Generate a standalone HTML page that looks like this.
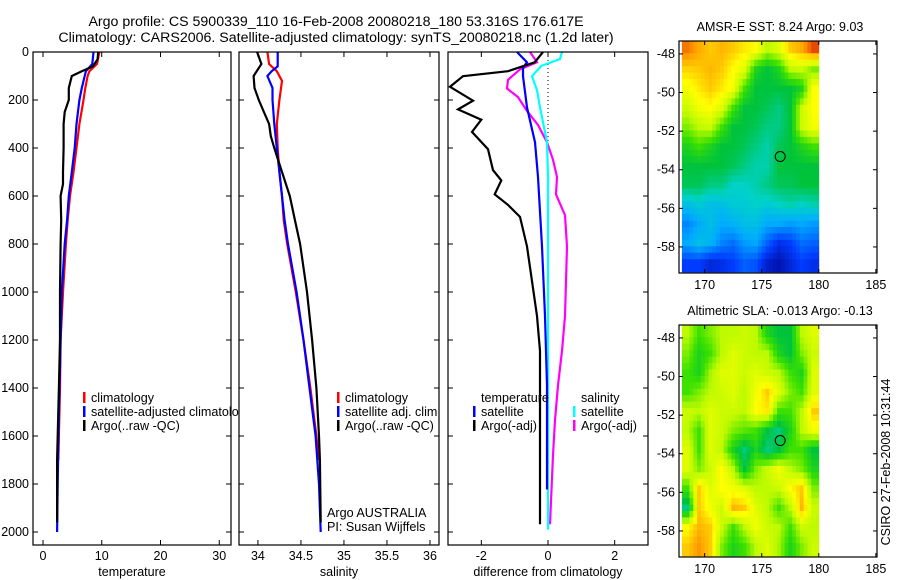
<!DOCTYPE html>
<html><head><meta charset="utf-8">
<style>
html,body{margin:0;padding:0;background:#fff;}
svg{display:block;font-family:"Liberation Sans",sans-serif;}
</style></head>
<body>
<svg id="fig" width="900" height="580" viewBox="0 0 900 580" xmlns="http://www.w3.org/2000/svg">
<text x="336" y="26" font-size="14.2" text-anchor="middle">Argo profile: CS 5900339_110 16-Feb-2008 20080218_180 53.316S 176.617E</text>
<text x="336" y="42" font-size="14.2" text-anchor="middle">Climatology: CARS2006. Satellite-adjusted climatology: synTS_20080218.nc (1.2d later)</text>
<g id="root"></g>
<text transform="translate(890,462) rotate(-90)" font-size="12.5" text-anchor="middle">CSIRO 27-Feb-2008 10:31:44</text>
</svg>
<script>
// ---------- data ----------
const tDepth = [0,30,60,80,100,150,200,250,300,400,500,550,600,700,800,1000,1200,1400,1600,1700,1960];
const tArgo  = [9.4,9.3,8.5,6.6,4.9,4.4,4.4,3.7,3.5,3.5,3.4,3.4,3.0,3.1,3.0,2.9,2.9,2.7,2.5,2.4,2.4];
const cDepth = [0,50,80,100,150,200,300,400,500,600,700,800,1000,1200,1400,1700];
const tClim  = [9.6,9.2,7.9,7.6,7.2,6.9,6.2,5.7,5.2,4.6,4.2,3.9,3.4,3.0,2.9,2.6];
const sDepth = [0,50,80,100,150,200,300,400,500,600,700,800,1000,1200,1500,1800,2000];
const tSat   = [8.6,8.4,7.3,7.1,6.6,6.2,5.7,5.4,4.9,4.4,4.1,3.7,3.2,3.0,2.7,2.5,2.4];

const sArgoDepth = [0,50,100,150,200,250,300,350,400,500,600,700,800,1000,1200,1400,1600,1700,1960];
const sArgo  = [33.99,34.04,33.95,33.96,34.01,34.07,34.13,34.15,34.19,34.28,34.37,34.43,34.49,34.57,34.63,34.68,34.71,34.72,34.73];
const sClimDepth = [0,50,80,120,200,300,400,500,600,700,800,1000,1200,1400,1600,1700];
const sClim  = [34.11,34.13,34.22,34.28,34.25,34.22,34.23,34.25,34.28,34.30,34.34,34.44,34.53,34.61,34.68,34.71];
const sSatDepth = [0,60,80,100,150,200,300,400,500,600,700,800,1000,1200,1400,1600,1800,2000];
const sSat   = [34.23,34.23,34.16,34.11,34.17,34.17,34.19,34.22,34.25,34.28,34.31,34.35,34.45,34.53,34.60,34.67,34.71,34.73];

const dTArgoDepth = [0,43,80,101,145,203,239,282,333,405,492,535,593,637,687,810,955,1100,1245,1389,1968];
const dTArgo = [-0.15,-0.4,-1.2,-2.55,-2.94,-2.25,-2.7,-2.0,-2.28,-1.8,-1.65,-1.4,-1.6,-1.2,-0.84,-0.63,-0.48,-0.33,-0.24,-0.24,-0.24];
const dTSatDepth = [0,43,65,101,231,376,521,810,1100,1389,1823];
const dTSat  = [-0.93,-0.63,-0.75,-0.75,-0.63,-0.39,-0.3,-0.18,-0.09,-0.03,-0.03];
const dSSatDepth = [0,29,58,101,159,231,376,521,1000,1500,1990];
const dSSat  = [0.42,0.36,-0.2,-0.48,-0.33,-0.24,-0.03,0,0,0,0];
const dSArgoDepth = [0,43,72,116,152,188,246,304,376,449,521,593,680,810,1100,1245,1389,1534,1679,1968];
const dSArgo = [-0.54,-0.33,-0.84,-1.2,-1.23,-0.9,-0.63,-0.3,-0.03,0.15,0.27,0.24,0.51,0.57,0.51,0.42,0.3,0.21,0.15,0.06];

const depthTicks = [0,200,400,600,800,1000,1200,1400,1600,1800,2000];
const tempTicks = [0,10,20,30];
const salTicks = [34,34.5,35,35.5,36];
const salTickLabels = ["34","34.5","35","35.5","36"];
const diffTicks = [-2,0,2];
const lonTicks = [170,175,180,185];
const latTicks = [-48,-50,-52,-54,-56,-58];

const sstGrid = [
[0.92,0.88,0.85,0.87,0.85,0.82,0.8,0.7,0.75,0.85,0.88,0.95],
[0.84,0.85,0.87,0.85,0.8,0.75,0.55,0.5,0.55,0.7,0.72,0.65],
[0.78,0.82,0.85,0.82,0.78,0.6,0.5,0.5,0.5,0.5,0.55,0.8],
[0.72,0.78,0.8,0.75,0.6,0.5,0.5,0.48,0.45,0.5,0.72,0.8],
[0.65,0.7,0.72,0.6,0.5,0.5,0.48,0.45,0.45,0.5,0.72,0.78],
[0.55,0.6,0.55,0.5,0.5,0.48,0.45,0.42,0.48,0.5,0.55,0.6],
[0.5,0.5,0.5,0.5,0.48,0.45,0.42,0.42,0.5,0.5,0.5,0.5],
[0.48,0.48,0.45,0.45,0.4,0.4,0.42,0.45,0.48,0.48,0.5,0.5],
[0.35,0.38,0.35,0.35,0.38,0.38,0.4,0.38,0.4,0.42,0.4,0.42],
[0.25,0.3,0.35,0.3,0.32,0.35,0.35,0.3,0.3,0.28,0.3,0.28],
[0.3,0.35,0.32,0.25,0.22,0.28,0.3,0.2,0.12,0.15,0.22,0.2],
[0.15,0.15,0.1,0.12,0.15,0.2,0.18,0.08,0.05,0.1,0.15,0.12]];
const slaGrid = [
[0.7,0.6,0.65,0.7,0.7,0.72,0.7,0.55,0.5,0.5,0.7,0.75],
[0.65,0.55,0.6,0.7,0.75,0.72,0.7,0.7,0.55,0.5,0.65,0.72],
[0.6,0.55,0.68,0.75,0.75,0.72,0.75,0.72,0.7,0.6,0.55,0.75],
[0.6,0.65,0.7,0.72,0.75,0.7,0.78,0.85,0.75,0.65,0.6,0.75],
[0.72,0.7,0.75,0.72,0.72,0.7,0.8,0.82,0.6,0.6,0.7,0.85],
[0.7,0.6,0.75,0.72,0.65,0.62,0.6,0.5,0.45,0.55,0.7,0.78],
[0.75,0.6,0.75,0.7,0.55,0.45,0.55,0.45,0.5,0.6,0.6,0.5],
[0.75,0.65,0.72,0.8,0.7,0.5,0.65,0.72,0.78,0.7,0.65,0.55],
[0.6,0.85,0.75,0.8,0.78,0.75,0.7,0.7,0.72,0.8,0.85,0.65],
[0.45,0.85,0.78,0.72,0.87,0.85,0.75,0.7,0.6,0.7,0.87,0.72],
[0.8,0.87,0.85,0.72,0.6,0.7,0.78,0.72,0.7,0.6,0.72,0.7],
[0.85,0.9,0.85,0.65,0.55,0.6,0.7,0.75,0.68,0.55,0.65,0.72]];
const gridLon0 = 168, gridLat0 = -47.3, gridStep = 1;
const argoLon = 176.617, argoLat = -53.316;

// ---------- helpers ----------
const NS = "http://www.w3.org/2000/svg";
const rootG = document.getElementById('root');
function mk(tag, attrs, parent){ const e=document.createElementNS(NS,tag); for(const k in attrs) e.setAttribute(k,attrs[k]); (parent||rootG).appendChild(e); return e; }
function lin(d0,d1,r0,r1){ return v => r0 + (v-d0)/(d1-d0)*(r1-r0); }

const Y = lin(0,2000,52,532);
const pTop=52, pBot=545;
const panels = [
  {x0:33,x1:231,dom:[-1.7,32.0],name:'temperature-panel',ticks:tempTicks,labels:tempTicks.map(String),xlabel:'temperature',ylab:true},
  {x0:239,x1:439,dom:[33.78,36.105],name:'salinity-panel',ticks:salTicks,labels:salTickLabels,xlabel:'salinity',ylab:false},
  {x0:448,x1:648,dom:[-3,3],name:'difference-panel',ticks:diffTicks,labels:['-2','0','2'],xlabel:'difference from climatology',ylab:false}
];

function drawLine(g, X, depths, vals, color, name){
  let d='';
  for(let i=0;i<depths.length;i++){ d += (i?'L':'M') + X(vals[i]).toFixed(1) + ' ' + Y(depths[i]).toFixed(1); }
  const p = mk('path',{d:d,fill:'none',stroke:color,'stroke-width':2.2},g);
  
  
}
function legendEntry(g,x,y,color,label,name){
  const gg = mk('g',{},g);
  
  
  if(color) mk('rect',{x:x,y:y-10,width:2.5,height:11,fill:color},gg);
  const t = mk('text',{x:x+8,y:y,'font-size':12.6},gg); t.textContent=label;
}

panels.forEach((P,pi)=>{
  const g = mk('g',{});
  
  
  P.X = lin(P.dom[0],P.dom[1],P.x0,P.x1);
  mk('rect',{x:P.x0,y:pTop,width:P.x1-P.x0,height:pBot-pTop,fill:'#fff'},g);
  const cp = mk('clipPath',{id:'cp'+pi},g); mk('rect',{x:P.x0,y:pTop,width:P.x1-P.x0,height:pBot-pTop},cp);
  P.g = mk('g',{'clip-path':'url(#cp'+pi+')'},g);
  P.free = mk('g',{},g);
  P.frame = g;
});

// temperature
let P=panels[0];
drawLine(P.g,P.X,cDepth,tClim,'#ff0000','temp-climatology-line');
drawLine(P.g,P.X,sDepth,tSat,'#0000ff','temp-satellite-line');
drawLine(P.g,P.X,tDepth,tArgo,'#000000','temp-argo-line');
legendEntry(P.free,83,402,'#ff0000','climatology','legend-climatology');
legendEntry(P.free,83,416,'#0000ff','satellite-adjusted climatology','legend-satellite-adjusted');
legendEntry(P.free,83,430,'#000000','Argo(..raw -QC)','legend-argo');
// salinity
P=panels[1];
drawLine(P.g,P.X,sClimDepth,sClim,'#ff0000','sal-climatology-line');
drawLine(P.g,P.X,sSatDepth,sSat,'#0000ff','sal-satellite-line');
drawLine(P.g,P.X,sArgoDepth,sArgo,'#000000','sal-argo-line');
legendEntry(P.g,337,402,'#ff0000','climatology','legend-sal-climatology');
legendEntry(P.g,337,416,'#0000ff','satellite adj. clim.','legend-sal-satellite');
legendEntry(P.g,337,430,'#000000','Argo(..raw -QC)','legend-sal-argo');
let t1=mk('text',{x:327,y:517,'font-size':12.6},P.g); t1.textContent='Argo AUSTRALIA';
 
let t2=mk('text',{x:327,y:531,'font-size':12.6},P.g); t2.textContent='PI: Susan Wijffels';
 
// differences
P=panels[2];
mk('line',{x1:P.X(0),x2:P.X(0),y1:Y(0),y2:Y(600),stroke:'#000','stroke-width':1,'stroke-dasharray':'1,3'},P.g);
drawLine(P.g,P.X,dSArgoDepth,dSArgo,'#ff00ff','diff-sal-argo-line');
drawLine(P.g,P.X,dSSatDepth,dSSat,'#00ffff','diff-sal-satellite-line');
drawLine(P.g,P.X,dTSatDepth,dTSat,'#0000ff','diff-temp-satellite-line');
drawLine(P.g,P.X,dTArgoDepth,dTArgo,'#000000','diff-temp-argo-line');
legendEntry(P.g,473,402,null,'temperature','legend-temperature-heading');
legendEntry(P.g,473,416,'#0000ff','satellite','legend-diff-temp-satellite');
legendEntry(P.g,473,430,'#000000','Argo(-adj)','legend-diff-temp-argo');
legendEntry(P.g,573,402,null,'salinity','legend-salinity-heading');
legendEntry(P.g,573,416,'#00ffff','satellite','legend-diff-sal-satellite');
legendEntry(P.g,573,430,'#ff00ff','Argo(-adj)','legend-diff-sal-argo');

// frames & ticks
panels.forEach((P,pi)=>{
  const g=P.frame;
  mk('rect',{x:P.x0,y:pTop,width:P.x1-P.x0,height:pBot-pTop,fill:'none',stroke:'#000','stroke-width':1.2},g);
  P.ticks.forEach((v,i)=>{
    const x=P.X(v);
    mk('line',{x1:x,x2:x,y1:pBot,y2:pBot-5,stroke:'#000'},g);
    mk('line',{x1:x,x2:x,y1:pTop,y2:pTop+5,stroke:'#000'},g);
    const t=mk('text',{x:x,y:pBot+15,'font-size':12.5,'text-anchor':'middle'},g); t.textContent=P.labels[i];
  });
  depthTicks.forEach(d=>{
    const y=Y(d);
    mk('line',{x1:P.x0,x2:P.x0+5,y1:y,y2:y,stroke:'#000'},g);
    mk('line',{x1:P.x1,x2:P.x1-5,y1:y,y2:y,stroke:'#000'},g);
    if(P.ylab){ const t=mk('text',{x:P.x0-4,y:y+4,'font-size':12.5,'text-anchor':'end'},g); t.textContent=String(d); }
  });
  const xl=mk('text',{x:(P.x0+P.x1)/2,y:pBot+31,'font-size':12.5,'text-anchor':'middle'},g); xl.textContent=P.xlabel;
  
  
});

// ---------- maps ----------
const stops=[[0,[0,0,140]],[0.15,[0,60,255]],[0.3,[0,170,255]],[0.4,[0,210,200]],[0.5,[0,195,60]],[0.6,[60,225,0]],[0.7,[190,250,0]],[0.8,[255,255,0]],[0.9,[255,150,0]],[1,[200,0,0]]];
function cmap(v){ v=Math.max(0,Math.min(1,v)); for(let i=1;i<stops.length;i++){ if(v<=stops[i][0]){ const a=stops[i-1],b=stops[i]; const f=(v-a[0])/(b[0]-a[0]); const c=a[1].map((q,k)=>Math.round(q+(b[1][k]-q)*f)); return 'rgb('+c.join(',')+')'; } } return 'rgb(200,0,0)'; }
function sample(grid,fr,fc){
  const R=grid.length, C=grid[0].length;
  fr=Math.max(0,Math.min(R-1,fr)); fc=Math.max(0,Math.min(C-1,fc));
  const r0=Math.floor(fr), c0=Math.floor(fc), r1=Math.min(R-1,r0+1), c1=Math.min(C-1,c0+1);
  const a=fr-r0, b=fc-c0;
  return grid[r0][c0]*(1-a)*(1-b)+grid[r0][c1]*(1-a)*b+grid[r1][c0]*a*(1-b)+grid[r1][c1]*a*b;
}
function drawMap(top0,grid,title,name){
  const g=mk('g',{});
  
  
  const x0=679,x1=877,y0=top0,y1=top0+232;
  const LX=lin(167.75,185.1,x0,x1), LY=lin(-47.33,-59.35,y0,y1);
  const sub=3, R=grid.length, C=grid[0].length;
  for(let r=0;r<R*sub;r++){
    for(let c=0;c<C*sub;c++){
      const lo=gridLon0+c*gridStep/sub, la=gridLat0-r*gridStep/sub;
      const v=sample(grid,(r+0.5)/sub-0.5,(c+0.5)/sub-0.5);
      const xa=Math.max(x0,LX(lo)), xb=Math.min(LX(180.2),LX(lo+gridStep/sub));
      const ya=Math.max(y0,LY(la)), yb=Math.min(y1,LY(la-gridStep/sub));
      if(xb<=xa||yb<=ya) continue;
      const cell=mk('rect',{x:xa.toFixed(1),y:ya.toFixed(1),width:(xb-xa+0.4).toFixed(1),height:(yb-ya+0.4).toFixed(1),fill:cmap(v)},g);
      
      
    }
  }
  const circ=mk('circle',{cx:LX(argoLon),cy:LY(argoLat),r:5,fill:'none',stroke:'#000','stroke-width':1},g);
  
  
  mk('rect',{x:x0,y:y0,width:x1-x0,height:y1-y0,fill:'none',stroke:'#000','stroke-width':1.2},g);
  lonTicks.forEach(v=>{ const x=LX(v); mk('line',{x1:x,x2:x,y1:y1,y2:y1-4,stroke:'#000'},g); mk('line',{x1:x,x2:x,y1:y0,y2:y0+4,stroke:'#000'},g);
    const t=mk('text',{x:x,y:y1+16,'font-size':12.5,'text-anchor':'middle'},g); t.textContent=String(v); });
  latTicks.forEach(v=>{ const y=LY(v); mk('line',{x1:x0,x2:x0+4,y1:y,y2:y,stroke:'#000'},g); mk('line',{x1:x1,x2:x1-4,y1:y,y2:y,stroke:'#000'},g);
    const t=mk('text',{x:x0-4,y:y+4,'font-size':12.5,'text-anchor':'end'},g); t.textContent=String(v); });
  const tt=mk('text',{x:(x0+x1)/2+2,y:y0-10,'font-size':12.5,'text-anchor':'middle'},g); tt.textContent=title;
  
  
}
drawMap(41,sstGrid,'AMSR-E SST: 8.24 Argo: 9.03','sst-map');
drawMap(325,slaGrid,'Altimetric SLA: -0.013 Argo: -0.13','sla-map');
</script>
</body></html>
